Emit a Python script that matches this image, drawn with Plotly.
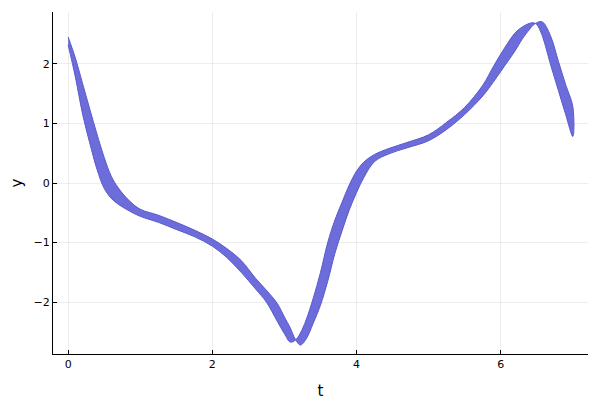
import plotly.graph_objects as go

# time grid
t = [0.0, 0.1, 0.2, 0.3, 0.4, 0.5, 0.6, 0.7, 0.85, 1.0, 1.25, 1.5, 1.75, 2.0,
     2.2, 2.4, 2.6, 2.75, 2.9, 3.0, 3.08, 3.15, 3.22, 3.3, 3.4, 3.5, 3.6, 3.7,
     3.8, 3.9, 4.0, 4.1, 4.25, 4.45, 4.7, 5.0, 5.25, 5.5, 5.75, 5.9, 6.05, 6.2,
     6.3, 6.4, 6.45, 6.5, 6.56, 6.6, 6.7, 6.8, 6.9, 7.0]

# leading edge of the ensemble
y_lead = [2.32, 1.78, 1.16, 0.67, 0.23, -0.09, -0.26, -0.36, -0.47, -0.56, -0.66, -0.78, -0.90, -1.06,
          -1.25, -1.50, -1.78, -2.00, -2.32, -2.53, -2.67, -2.64, -2.52, -2.30, -1.93, -1.50, -1.00, -0.62,
          -0.32, -0.03, 0.20, 0.35, 0.48, 0.58, 0.68, 0.81, 1.02, 1.27, 1.64, 1.96, 2.26, 2.52,
          2.62, 2.68, 2.69, 2.66, 2.52, 2.38, 1.95, 1.55, 1.15, 0.78]

# trailing edge of the ensemble
y_lag = [2.45, 2.10, 1.67, 1.24, 0.82, 0.43, 0.11, -0.09, -0.30, -0.44, -0.54, -0.66, -0.79, -0.94,
         -1.10, -1.30, -1.60, -1.80, -2.02, -2.25, -2.43, -2.62, -2.72, -2.62, -2.35, -2.05, -1.65, -1.18,
         -0.80, -0.45, -0.16, 0.09, 0.36, 0.49, 0.59, 0.71, 0.90, 1.15, 1.46, 1.70, 1.96, 2.22,
         2.42, 2.58, 2.65, 2.69, 2.71, 2.68, 2.44, 2.04, 1.65, 1.28]

xticks = [0, 2, 4, 6]
yticks = [-2, -1, 0, 1, 2]

band_color = "rgba(100,100,216,0.95)"
edge_color = "rgb(90,90,205)"

fig = go.Figure()
fig.add_trace(go.Scatter(
    x=t + t[::-1], y=y_lead + y_lag[::-1],
    mode="lines", fill="toself", fillcolor=band_color,
    line=dict(color=edge_color, width=1, shape="spline", smoothing=1.0),
    hoverinfo="skip", showlegend=False))

axis_common = dict(
    showline=True, linecolor="black", linewidth=1, mirror=False,
    ticks="inside", ticklen=4, tickcolor="black", tickwidth=1,
    showgrid=True, gridcolor="rgba(0,0,0,0.07)", gridwidth=0.5,
    zeroline=False, automargin=False,
    tickfont=dict(family="DejaVu Sans", size=11, color="black"),
)

fig.update_layout(
    width=592, height=392,
    paper_bgcolor="white", plot_bgcolor="white",
    margin=dict(l=45, r=12, t=4, b=46),
    showlegend=False,
    xaxis=dict(range=[-0.21, 7.21], tickvals=xticks,
               title=dict(text="t", font=dict(family="DejaVu Sans", size=15, color="black")),
               **axis_common),
    yaxis=dict(range=[-2.87, 2.87], tickvals=yticks,
               title=dict(text="y", font=dict(family="DejaVu Sans", size=15, color="black")),
               **axis_common),
)

fig.write_html("out.html")
